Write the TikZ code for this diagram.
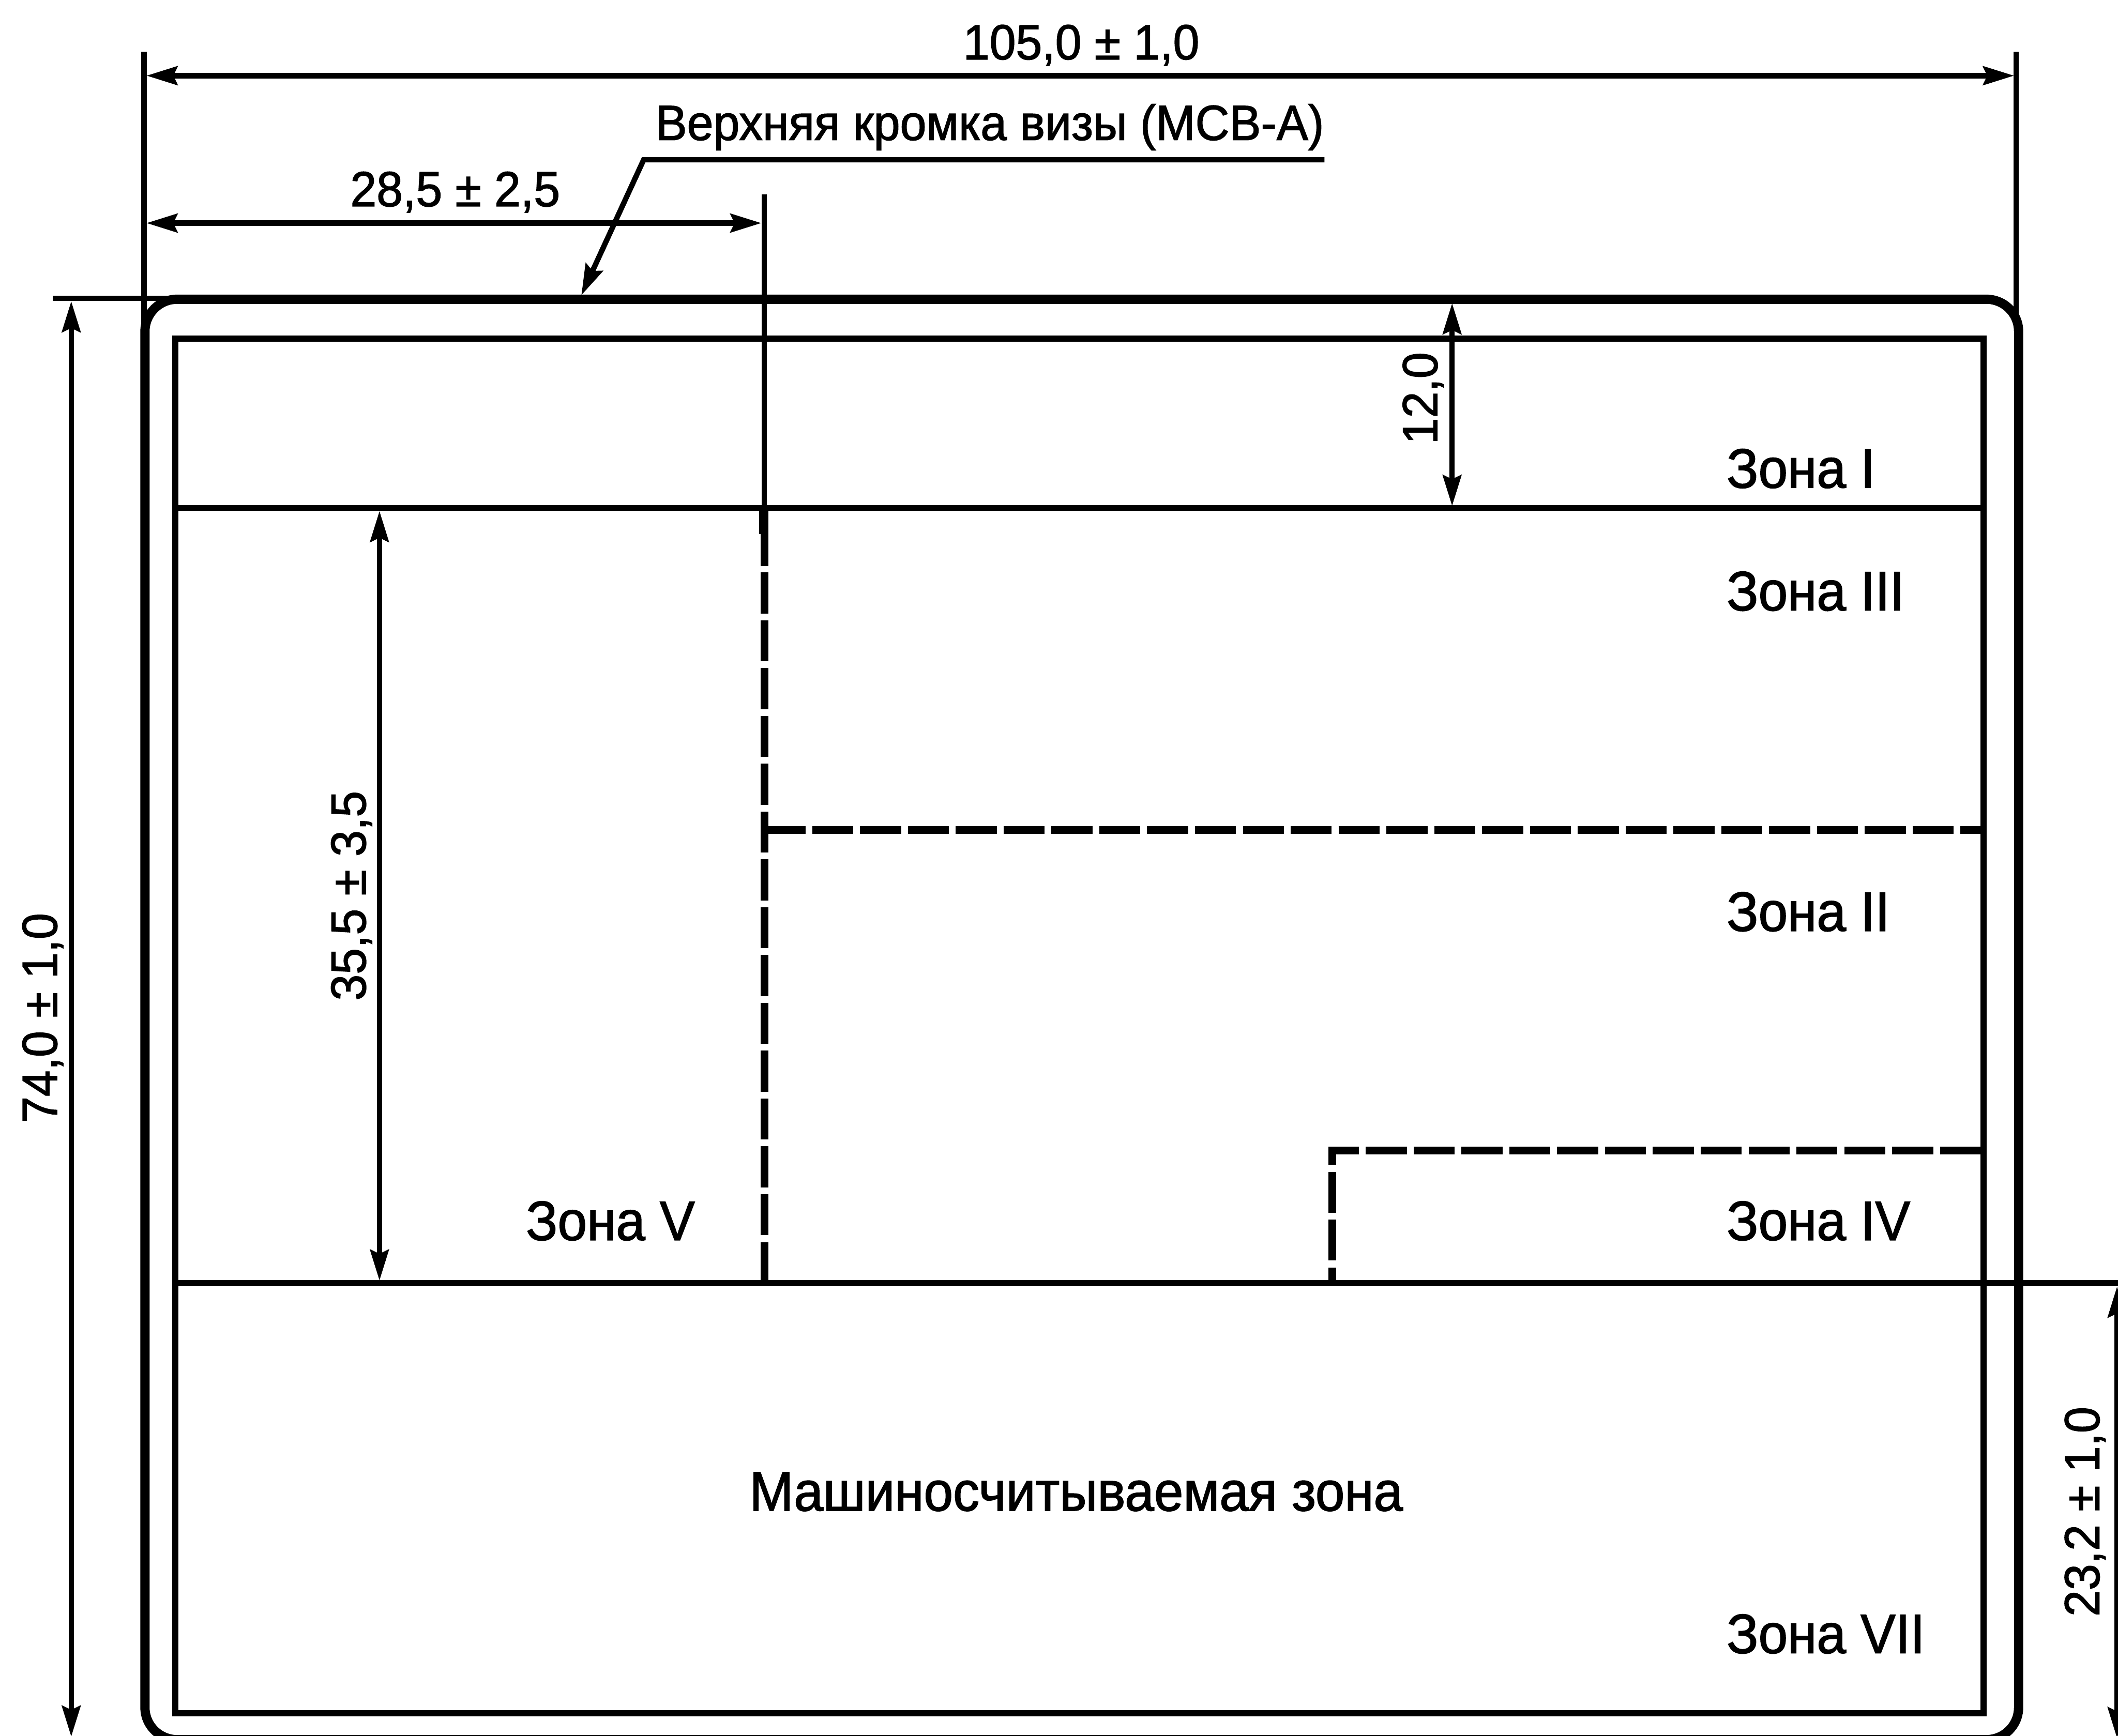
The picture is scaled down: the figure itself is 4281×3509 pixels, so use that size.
\documentclass[tikz,border=0pt]{standalone}
\usepackage{fontspec}
\setmainfont{Liberation Sans}
\newfontfamily\drawfont{Liberation Sans}[FakeStretch=0.955,FakeBold=1.5]
\newfontfamily\zonefont{Liberation Sans}[FakeStretch=0.945,FakeBold=1.5]
\usetikzlibrary{arrows.meta}
\tikzset{
  dimtip/.tip={Stealth[length=15pt,width=9pt,inset=2pt]},
  outerframe/.style={line width=4.5pt,rounded corners=15.6pt},
  innerframe/.style={line width=3pt},
  thinline/.style={line width=2.6pt},
  midline/.style={line width=2.6pt},
  dashline/.style={line width=3.8pt,dash pattern=on 19.92pt off 3.29pt},
  dimh/.style={line width=2.6pt,dimtip-dimtip},
  dimv/.style={line width=2.4pt,dimtip-dimtip},
  leader/.style={line width=2.6pt,-dimtip},
  lbl/.style={font=\drawfont\fontsize{24pt}{28pt}\selectfont,inner sep=0pt,outer sep=0pt,anchor=base west},
  vlbl/.style={lbl,rotate=90},
  zlbl/.style={lbl,font=\zonefont\fontsize{27pt}{32pt}\selectfont}
}
\begin{document}
\begin{tikzpicture}[x=0.24pt,y=-0.24pt]
\path[use as bounding box,clip] (0,0) rectangle (4281,3509);
\fill[white] (0,0) rectangle (4281,3509);
% frame
\draw[outerframe] (293,605) rectangle (4080,3517);
\draw[innerframe] (354,685) rectangle (4009,3464);
% extension lines
\coordinate (extLtop) at (291,105); \coordinate (extLbot) at (291,660);
\coordinate (extRtop) at (4075,105); \coordinate (extRbot) at (4075,660);
\coordinate (extMtop) at (1545,393); \coordinate (extMbot) at (1545,1040);
\coordinate (extTl) at (107,603); \coordinate (extTr) at (360,603);
\draw[thinline] (extLtop) -- (extLbot);
\draw[thinline] (extRtop) -- (extRbot);
\draw[thinline] (extMtop) -- (extMbot);
\draw[thinline] (extTl) -- (extTr);
% zone lines
\coordinate (z1l) at (354,1027); \coordinate (z1r) at (4009,1027);
\coordinate (mrzl) at (354,2594); \coordinate (mrzr) at (4281,2594);
\draw[midline] (z1l) -- (z1r);
\draw[innerframe] (mrzl) -- (mrzr);
% dashed
\coordinate (dvb) at (1545,2594); \coordinate (dvt) at (1545,1150);
\coordinate (stubb) at (1545,1144); \coordinate (stubt) at (1545,1032);
\coordinate (stub2b) at (1543.3,1080); \coordinate (stub2t) at (1543.3,1032);
\coordinate (dh1l) at (1545,1678); \coordinate (dh1r) at (4004,1678);
\coordinate (dv2b) at (2693,2594); \coordinate (dc2) at (2693,2326); \coordinate (dh2r) at (4004,2326);
\draw[dashline] (dvb) -- (dvt);
\draw[line width=3.7pt] (stubb) -- (stubt);
\draw[line width=4.4pt] (stub2b) -- (stub2t);
\draw[dashline] (dh1l) -- (dh1r);
\draw[dashline] (dh2r) -- (dc2) -- (dv2b);
% dimensions
\coordinate (d1l) at (296,153); \coordinate (d1r) at (4071,153);
\coordinate (d2l) at (296,451); \coordinate (d2r) at (1539,451);
\coordinate (d3t) at (144,609); \coordinate (d3b) at (144,3511);
\coordinate (d4t) at (2935,613); \coordinate (d4b) at (2935,1023);
\coordinate (d5t) at (767,1033); \coordinate (d5b) at (767,2589);
\coordinate (d6t) at (4279,2601); \coordinate (d6b) at (4279,3514);
\draw[dimh] (d1l) -- (d1r);
\draw[dimh] (d2l) -- (d2r);
\draw[dimv] (d3t) -- (d3b);
\draw[dimv] (d4t) -- (d4b);
\draw[dimv] (d5t) -- (d5b);
\draw[dimv] (d6t) -- (d6b);
% leader
\coordinate (lr) at (2677,323); \coordinate (lk) at (1301,323); \coordinate (lt) at (1175,597);
\draw[leader] (lr) -- (lk) -- (lt);
% labels
\node[lbl] (t1) at (1947,120) {105,0 ± 1,0};
\node[lbl] (t2) at (1325,283) {Верхняя кромка визы (МСВ-А)};
\node[lbl] (t3) at (708,417) {28,5 ± 2,5};
\node[vlbl] (t4) at (2905,898) {12,0};
\node[vlbl] (t5) at (739,2023) {35,5 ± 3,5};
\node[vlbl] (t6) at (115,2270) {74,0 ± 1,0};
\node[vlbl] (t7) at (4243,3268) {23,2 ± 1,0};
\node[zlbl] (z1) at (3490,986) {Зона I};
\node[zlbl] (z3) at (3490,1234) {Зона III};
\node[zlbl] (z2) at (3490,1882) {Зона II};
\node[zlbl] (z4) at (3490,2507) {Зона IV};
\node[zlbl] (z5) at (1063,2507) {Зона V};
\node[zlbl] (mz) at (1515,3054) {Машиносчитываемая зона};
\node[zlbl] (z7) at (3490,3342) {Зона VII};
\end{tikzpicture}
\end{document}
